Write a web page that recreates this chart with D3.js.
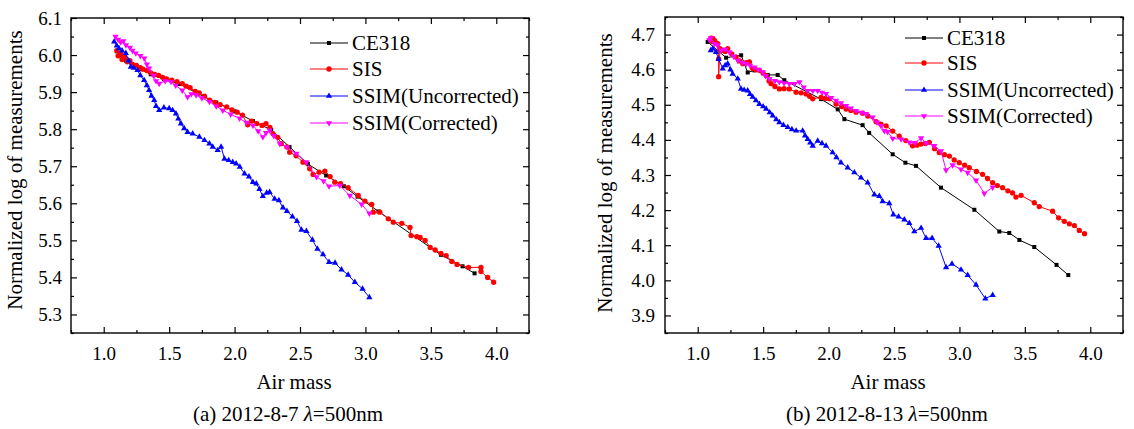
<!DOCTYPE html>
<html>
<head>
<meta charset="utf-8">
<script src="https://cdn.jsdelivr.net/npm/d3@7"></script>
<style>
  body { margin: 0; background: #fff; }
  text { font-family: "Liberation Serif", "Times New Roman", serif; fill: #000; }
</style>
</head>
<body>
<svg id="chart" width="1134" height="429"></svg>
<script>
// ---- data: [air mass, normalized log] ----
const seriesNames = ["CE318", "SIS", "SSIM(Uncorrected)", "SSIM(Corrected)"];
const xTicks = [1.0, 1.5, 2.0, 2.5, 3.0, 3.5, 4.0];
const yTicksA = [5.3, 5.4, 5.5, 5.6, 5.7, 5.8, 5.9, 6.0, 6.1];
const yTicksB = [3.9, 4.0, 4.1, 4.2, 4.3, 4.4, 4.5, 4.6, 4.7];

// panel (a) 2012-8-7
const a_ce318 = [[1.10,6.010],[1.13,6.000],[1.17,5.985],[1.22,5.972],[1.28,5.962],[1.36,5.948],[1.46,5.935],[1.58,5.922],
  [1.72,5.896],[1.86,5.872],[2.00,5.848],[2.14,5.822],[2.28,5.798],[2.42,5.752],[2.56,5.706],[2.70,5.675],[2.835,5.646],
  [2.94,5.618],[3.10,5.578],[3.577,5.461],[3.742,5.430],[3.834,5.411]];
const a_sis = [[1.10,6.012],[1.11,5.998],[1.13,6.005],[1.14,5.988],[1.16,5.995],[1.18,5.982],[1.20,5.985],[1.22,5.975],
  [1.25,5.972],[1.28,5.966],[1.30,5.962],[1.33,5.958],[1.36,5.952],[1.39,5.948],[1.42,5.945],[1.45,5.940],[1.48,5.936],
  [1.52,5.932],[1.56,5.928],[1.60,5.923],[1.63,5.916],[1.66,5.912],[1.70,5.902],[1.73,5.898],[1.77,5.889],[1.81,5.878],
  [1.85,5.872],[1.89,5.866],[1.94,5.860],[1.98,5.852],[2.02,5.846],[2.06,5.838],[2.10,5.812],[2.13,5.822],[2.17,5.815],
  [2.21,5.810],[2.24,5.815],[2.27,5.805],[2.293,5.788],[2.33,5.778],[2.357,5.761],[2.40,5.752],[2.421,5.738],[2.47,5.728],
  [2.523,5.711],[2.574,5.693],[2.60,5.678],[2.646,5.684],[2.69,5.687],[2.73,5.672],[2.766,5.657],[2.81,5.653],[2.868,5.642],
  [2.945,5.621],[2.996,5.606],[3.048,5.597],[3.06,5.576],[3.11,5.576],[3.175,5.558],[3.213,5.549],[3.278,5.546],[3.341,5.535],
  [3.349,5.513],[3.393,5.510],[3.418,5.508],[3.456,5.500],[3.495,5.481],[3.533,5.474],[3.577,5.465],[3.617,5.459],[3.66,5.443],
  [3.70,5.435],[3.788,5.427],[3.883,5.427],[3.883,5.416],[3.934,5.400],[3.98,5.387]];
const a_ssimU = [[1.08,6.036],[1.10,6.025],[1.117,6.018],[1.14,6.012],[1.169,6.005],[1.19,5.985],[1.207,5.968],[1.23,5.965],
  [1.258,5.959],[1.28,5.945],[1.309,5.932],[1.33,5.918],[1.347,5.905],[1.365,5.890],[1.386,5.878],[1.40,5.862],[1.424,5.851],
  [1.46,5.858],[1.50,5.856],[1.526,5.851],[1.552,5.842],[1.57,5.828],[1.59,5.815],[1.615,5.802],[1.641,5.792],[1.68,5.788],
  [1.731,5.779],[1.77,5.770],[1.808,5.761],[1.833,5.752],[1.871,5.743],[1.897,5.752],[1.923,5.720],[1.955,5.716],[1.986,5.711],
  [2.012,5.707],[2.04,5.698],[2.076,5.680],[2.11,5.672],[2.14,5.657],[2.166,5.653],[2.19,5.638],[2.216,5.619],[2.245,5.628],
  [2.268,5.630],[2.306,5.612],[2.339,5.608],[2.37,5.588],[2.40,5.579],[2.442,5.564],[2.477,5.552],[2.511,5.528],[2.549,5.525],
  [2.595,5.501],[2.633,5.477],[2.676,5.462],[2.722,5.441],[2.768,5.439],[2.817,5.421],[2.868,5.407],[2.919,5.387],[2.978,5.369],
  [3.03,5.346]];
const a_ssimC = [[1.09,6.050],[1.11,6.042],[1.13,6.035],[1.15,6.038],[1.17,6.027],[1.20,6.020],[1.22,6.012],[1.245,6.005],
  [1.28,5.998],[1.31,5.991],[1.33,5.975],[1.347,5.964],[1.38,5.945],[1.40,5.930],[1.424,5.923],[1.47,5.930],[1.514,5.928],
  [1.55,5.918],[1.60,5.905],[1.641,5.887],[1.67,5.895],[1.706,5.892],[1.75,5.884],[1.808,5.874],[1.86,5.862],[1.91,5.851],
  [1.97,5.840],[2.038,5.829],[2.09,5.818],[2.14,5.810],[2.18,5.795],[2.216,5.779],[2.24,5.790],[2.268,5.797],[2.30,5.782],
  [2.345,5.761],[2.40,5.752],[2.472,5.734],[2.549,5.711],[2.626,5.671],[2.68,5.660],[2.722,5.646],[2.804,5.648],[2.881,5.621],
  [2.971,5.597],[3.03,5.573]];

// panel (b) 2012-8-13
const b_ce318 = [[1.076,4.679],[1.217,4.634],[1.332,4.641],[1.382,4.592],[1.433,4.598],[1.535,4.585],[1.611,4.585],[1.662,4.570],
  [1.943,4.516],[2.07,4.487],[2.121,4.459],[2.26,4.442],[2.31,4.420],[2.49,4.359],[2.587,4.335],[2.668,4.326],[2.859,4.264],
  [3.114,4.201],[3.305,4.139],[3.381,4.135],[3.458,4.115],[3.572,4.095],[3.742,4.044],[3.832,4.015]];
const b_sis = [[1.102,4.690],[1.11,4.680],[1.115,4.689],[1.13,4.683],[1.153,4.674],[1.16,4.631],[1.16,4.580],[1.17,4.660],
  [1.191,4.655],[1.21,4.652],[1.229,4.660],[1.26,4.645],[1.293,4.636],[1.32,4.625],[1.344,4.617],[1.37,4.620],[1.395,4.622],
  [1.42,4.603],[1.445,4.600],[1.471,4.598],[1.50,4.590],[1.523,4.583],[1.545,4.568],[1.561,4.560],[1.59,4.552],[1.624,4.545],
  [1.66,4.546],[1.70,4.545],[1.752,4.536],[1.79,4.534],[1.828,4.531],[1.855,4.524],[1.879,4.517],[1.943,4.521],[1.975,4.518],
  [2.006,4.517],[2.057,4.502],[2.10,4.495],[2.134,4.488],[2.17,4.484],[2.21,4.479],[2.26,4.476],[2.30,4.468],[2.363,4.452],
  [2.40,4.445],[2.44,4.440],[2.49,4.425],[2.54,4.411],[2.59,4.398],[2.642,4.383],[2.675,4.385],[2.706,4.388],[2.74,4.390],
  [2.77,4.393],[2.81,4.375],[2.846,4.364],[2.885,4.358],[2.923,4.354],[2.96,4.343],[2.999,4.335],[3.04,4.328],[3.075,4.321],
  [3.13,4.310],[3.177,4.302],[3.215,4.290],[3.254,4.278],[3.29,4.270],[3.33,4.264],[3.37,4.255],[3.406,4.249],[3.432,4.237],
  [3.471,4.242],[3.572,4.221],[3.61,4.210],[3.712,4.197],[3.758,4.178],[3.801,4.168],[3.84,4.161],[3.878,4.156],[3.916,4.142],
  [3.956,4.133]];
const b_ssimU = [[1.10,4.655],[1.115,4.660],[1.14,4.650],[1.16,4.630],[1.191,4.603],[1.21,4.612],[1.229,4.617],[1.25,4.600],
  [1.267,4.588],[1.306,4.574],[1.331,4.545],[1.355,4.542],[1.382,4.540],[1.40,4.530],[1.42,4.522],[1.445,4.512],[1.471,4.502],
  [1.50,4.495],[1.523,4.488],[1.55,4.478],[1.573,4.469],[1.60,4.458],[1.624,4.450],[1.655,4.442],[1.688,4.436],[1.72,4.430],
  [1.752,4.426],[1.802,4.426],[1.82,4.412],[1.84,4.402],[1.86,4.392],[1.879,4.383],[1.917,4.397],[1.95,4.390],[1.981,4.383],
  [2.031,4.364],[2.06,4.350],[2.095,4.335],[2.146,4.321],[2.197,4.307],[2.248,4.292],[2.299,4.278],[2.35,4.244],[2.388,4.240],
  [2.413,4.225],[2.464,4.219],[2.495,4.187],[2.535,4.181],[2.579,4.173],[2.617,4.163],[2.655,4.139],[2.707,4.149],[2.745,4.120],
  [2.791,4.120],[2.841,4.098],[2.898,4.037],[2.943,4.047],[3.012,4.030],[3.063,4.015],[3.127,3.987],[3.198,3.948],[3.254,3.958]];
const b_ssimC = [[1.089,4.684],[1.10,4.690],[1.128,4.674],[1.15,4.670],[1.179,4.655],[1.21,4.658],[1.242,4.650],[1.275,4.638],
  [1.306,4.626],[1.34,4.620],[1.37,4.617],[1.40,4.612],[1.433,4.607],[1.465,4.600],[1.497,4.593],[1.52,4.582],[1.548,4.574],
  [1.59,4.568],[1.624,4.565],[1.66,4.562],[1.70,4.560],[1.74,4.560],[1.777,4.565],[1.81,4.550],[1.84,4.540],[1.88,4.540],
  [1.917,4.540],[1.95,4.535],[1.981,4.531],[2.02,4.520],[2.057,4.512],[2.095,4.505],[2.134,4.497],[2.17,4.490],[2.21,4.483],
  [2.25,4.478],[2.286,4.474],[2.337,4.464],[2.37,4.450],[2.401,4.440],[2.426,4.426],[2.451,4.423],[2.49,4.404],[2.554,4.402],
  [2.617,4.393],[2.66,4.392],[2.707,4.405],[2.745,4.391],[2.808,4.383],[2.859,4.368],[2.898,4.314],[2.948,4.328],[3.012,4.316],
  [3.063,4.307],[3.127,4.285],[3.19,4.248],[3.254,4.265]];

// ---- styling ----
const colors = ["#000000", "#ff0000", "#0000ff", "#ff00ff"];
const symbols = [d3.symbolSquare, d3.symbolCircle, d3.symbolTriangle, d3.symbolTriangle];
const symSizes = [16, 22, 17, 17];
const symRotate = [0, 0, 0, 180];

const svg = d3.select("#chart");

function drawPanel(cfg) {
  const w = cfg.right - cfg.left, h = cfg.bottom - cfg.top;
  const g = svg.append("g").attr("transform", `translate(${cfg.left},${cfg.top})`);

  const x = d3.scaleLinear().domain([0.75, 4.25]).range([0, w]);
  const y = d3.scaleLinear().domain(cfg.yDomain).range([h, 0]);

  const xMinor = d3.range(0.75, 4.26, 0.25).filter(v => !xTicks.some(t => Math.abs(t - v) < 1e-6));
  const yMinor = d3.range(cfg.yDomain[0], cfg.yDomain[1] + 1e-6, 0.05)
    .filter(v => !cfg.yTicks.some(t => Math.abs(t - v) < 1e-6));

  const clean = sel => {
    sel.select(".domain").remove();
    sel.selectAll("line").attr("stroke", "#000").attr("stroke-width", 1.2);
  };

  // major ticks (inward), labels on bottom/left
  g.append("g").attr("transform", `translate(0,${h})`)
    .call(d3.axisBottom(x).tickValues(xTicks).tickSize(-6).tickSizeOuter(0).tickPadding(14).tickFormat(d3.format(".1f")))
    .call(clean)
    .call(s => s.selectAll("text").attr("font-size", 19).attr("font-family", "Liberation Serif"));
  g.append("g")
    .call(d3.axisLeft(y).tickValues(cfg.yTicks).tickSize(-6).tickSizeOuter(0).tickPadding(cfg.yPad).tickFormat(d3.format(".1f")))
    .call(clean)
    .call(s => s.selectAll("text").attr("font-size", 19).attr("font-family", "Liberation Serif"));
  g.append("g").call(d3.axisTop(x).tickValues(xTicks).tickSize(-6).tickSizeOuter(0).tickFormat("")).call(clean);
  g.append("g").attr("transform", `translate(${w},0)`)
    .call(d3.axisRight(y).tickValues(cfg.yTicks).tickSize(-6).tickSizeOuter(0).tickFormat("")).call(clean);

  // minor ticks
  g.append("g").attr("transform", `translate(0,${h})`)
    .call(d3.axisBottom(x).tickValues(xMinor).tickSize(-3).tickSizeOuter(0).tickFormat("")).call(clean);
  g.append("g").call(d3.axisTop(x).tickValues(xMinor).tickSize(-3).tickSizeOuter(0).tickFormat("")).call(clean);
  g.append("g").call(d3.axisLeft(y).tickValues(yMinor).tickSize(-3).tickSizeOuter(0).tickFormat("")).call(clean);
  g.append("g").attr("transform", `translate(${w},0)`)
    .call(d3.axisRight(y).tickValues(yMinor).tickSize(-3).tickSizeOuter(0).tickFormat("")).call(clean);

  // frame
  g.append("rect").attr("width", w).attr("height", h)
    .attr("fill", "none").attr("stroke", "#000").attr("stroke-width", 1.4);

  // series
  const line = d3.line().x(d => x(d[0])).y(d => y(d[1]));
  cfg.series.forEach((data, i) => {
    g.append("path").datum(data)
      .attr("fill", "none").attr("stroke", colors[i]).attr("stroke-width", 1)
      .attr("d", line);
    g.append("g").selectAll("path").data(data).join("path")
      .attr("d", d3.symbol(symbols[i], symSizes[i]))
      .attr("fill", colors[i])
      .attr("transform", d => `translate(${x(d[0])},${y(d[1])}) rotate(${symRotate[i]})`);
  });

  // legend
  const lg = svg.append("g");
  seriesNames.forEach((name, i) => {
    const ly = cfg.legendRows[i];
    lg.append("line")
      .attr("x1", cfg.legendX).attr("x2", cfg.legendX + 38)
      .attr("y1", ly).attr("y2", ly)
      .attr("stroke", colors[i]).attr("stroke-width", 1);
    lg.append("path")
      .attr("d", d3.symbol(symbols[i], symSizes[i]))
      .attr("fill", colors[i])
      .attr("transform", `translate(${cfg.legendX + 19},${ly}) rotate(${symRotate[i]})`);
    lg.append("text")
      .attr("x", cfg.legendX + 42).attr("y", ly + 7)
      .attr("font-size", 21).text(name);
  });

  // axis titles
  svg.append("text")
    .attr("x", (cfg.left + cfg.right) / 2 - 6).attr("y", 389)
    .attr("text-anchor", "middle").attr("font-size", 21).text("Air mass");
  svg.append("text")
    .attr("transform", `translate(${cfg.yTitleX},${cfg.yTitleY}) rotate(-90)`)
    .attr("text-anchor", "middle").attr("font-size", 21).text("Normalized log of measurements");

  // caption
  const cap = svg.append("text")
    .attr("x", cfg.captionX).attr("y", 421)
    .attr("text-anchor", "middle").attr("font-size", 21);
  cap.append("tspan").text(cfg.caption + " ");
  cap.append("tspan").attr("font-style", "italic").text("λ");
  cap.append("tspan").text("=500nm");
}

drawPanel({
  left: 71, right: 529, top: 18, bottom: 333,
  yDomain: [5.25, 6.1], yTicks: yTicksA, yPad: 9,
  series: [a_ce318, a_sis, a_ssimU, a_ssimC],
  legendX: 310, legendRows: [43, 69, 96, 123],
  yTitleX: 22, yTitleY: 170, captionX: 288, caption: "(a) 2012-8-7"
});

drawPanel({
  left: 665, right: 1123, top: 17, bottom: 333,
  yDomain: [3.85, 4.75], yTicks: yTicksB, yPad: 10,
  series: [b_ce318, b_sis, b_ssimU, b_ssimC],
  legendX: 905, legendRows: [38, 63, 90, 116],
  yTitleX: 612, yTitleY: 173, captionX: 887, caption: "(b) 2012-8-13"
});
</script>
</body>
</html>
